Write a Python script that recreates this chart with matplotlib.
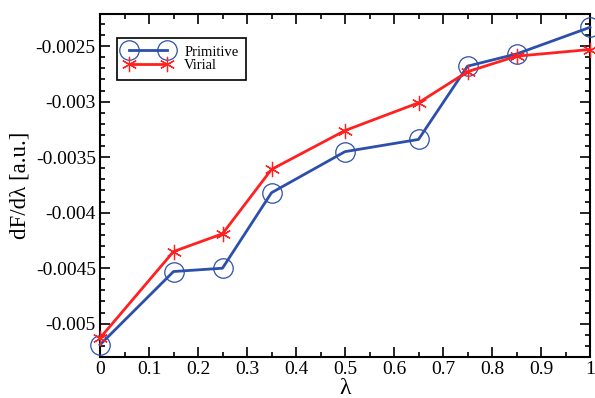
import numpy as np
import matplotlib
matplotlib.use("Agg")
import matplotlib.pyplot as plt
from matplotlib.ticker import MultipleLocator, FuncFormatter

plt.rcParams['font.family'] = ['Liberation Serif', 'DejaVu Serif']
plt.rcParams['axes.unicode_minus'] = False

# lambda points and free energy derivatives for the two estimators
lam = [0.0, 0.15, 0.25, 0.35, 0.5, 0.65, 0.75, 0.85, 1.0]
primitive = [-0.00519, -0.00453, -0.00450, -0.00382, -0.00345, -0.00334, -0.00268, -0.00257, -0.00233]
virial = [-0.00513, -0.00435, -0.00419, -0.00361, -0.00326, -0.00301, -0.00273, -0.00259, -0.00253]

fig = plt.figure(figsize=(5.95, 3.98), dpi=100)
ax = fig.add_axes([100 / 595, 1 - 357 / 398, 490 / 595, 343 / 398])

ax.plot(lam, primitive, color='#2b4faa', lw=2.0, marker='o', ms=14, mfc='none',
        mec='#2b4faa', mew=0.9, label='Primitive', clip_on=False, zorder=3)
ax.plot(lam, virial, color='#ff2020', lw=2.0, marker=(6, 2, 0), ms=11,
        mec='#ff2020', mew=0.9, label='Virial', clip_on=False, zorder=3)

ax.set_xlim(0, 1)
ax.set_ylim(-0.0053, -0.00221)
ax.xaxis.set_major_locator(MultipleLocator(0.1))
ax.xaxis.set_minor_locator(MultipleLocator(0.05))
ax.yaxis.set_major_locator(MultipleLocator(0.0005))
ax.yaxis.set_minor_locator(MultipleLocator(0.0001))
ax.xaxis.set_major_formatter(FuncFormatter(lambda v, p: '%g' % round(v, 3)))
ax.yaxis.set_major_formatter(FuncFormatter(lambda v, p: '%g' % round(v, 5)))

ax.tick_params(which='both', direction='in', top=True, right=True, width=1.2)
ax.tick_params(which='major', length=7, labelsize=14, pad=3)
ax.tick_params(which='minor', length=3.5)
for s in ax.spines.values():
    s.set_linewidth(1.5)

ax.set_xlabel('λ', fontsize=17, labelpad=0)
ax.set_ylabel('dF/dλ [a.u.]', fontsize=16.5, labelpad=4)

leg = ax.legend(loc='upper left', bbox_to_anchor=(0.035, 0.93), borderaxespad=0,
                fontsize=10.5, numpoints=2, frameon=True, fancybox=False,
                edgecolor='black', framealpha=1, handlelength=3.2, borderpad=0.5,
                labelspacing=0.05, handletextpad=0.9)
leg.get_frame().set_linewidth(1.2)

fig.savefig('out.png', dpi=100)
